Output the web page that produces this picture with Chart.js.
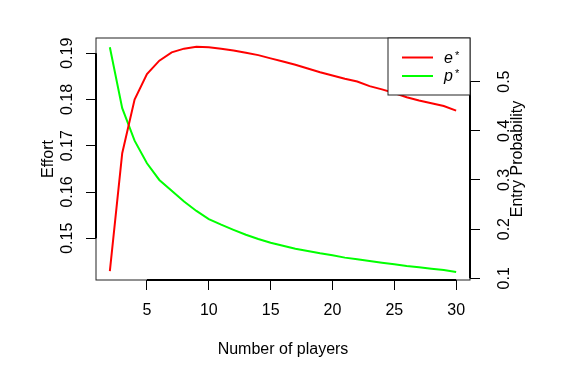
<!DOCTYPE html>
<html>
<head>
<meta charset="utf-8">
<script src="https://cdn.jsdelivr.net/npm/chart.js@4"></script>
<style>
  html, body { margin: 0; padding: 0; background: #fff; }
</style>
</head>
<body>
<canvas id="chartId" width="566" height="377"></canvas>
<script>
// values
const players = [2, 3, 4, 5, 6, 7, 8, 9, 10, 11, 12, 13, 14, 15, 16, 17, 18, 19, 20, 21, 22, 23, 24, 25, 26, 27, 28, 29, 30];
const effort = [0.1429, 0.1684, 0.1800, 0.1855, 0.1884, 0.1902, 0.1910, 0.1914, 0.1913, 0.1910,
                0.1906, 0.1901, 0.1896, 0.1889, 0.1882, 0.1875, 0.1867, 0.1859, 0.1852, 0.1845,
                0.1839, 0.1829, 0.1822, 0.1814, 0.1805, 0.1798, 0.1792, 0.1786, 0.1776];
const entryProb = [0.570, 0.446, 0.380, 0.334, 0.300, 0.278, 0.256, 0.237, 0.2205, 0.209,
                   0.1985, 0.1886, 0.180, 0.1724, 0.1663, 0.160, 0.1555, 0.1508, 0.1467, 0.142,
                   0.1386, 0.1352, 0.1317, 0.1285, 0.125, 0.1224, 0.1195, 0.1169, 0.1128];
const xTicks = [5, 10, 15, 20, 25, 30];
const effortTicks = [0.15, 0.16, 0.17, 0.18, 0.19];
const entryTicks = [0.1, 0.2, 0.3, 0.4, 0.5];
const seriesLabels = ['e*', 'p*'];

const FONT = 'Liberation Sans, Arial, Helvetica, sans-serif';
const tickFont = { family: FONT, size: 16 };

// R style box, short axis lines, legend and right title
const rFrame = {
    id: 'rFrame',
    afterDraw(chart) {
        const ctx = chart.ctx;
        const a = chart.chartArea;
        const sx = chart.scales.x, sy = chart.scales.y, sy2 = chart.scales.y2;
        ctx.save();

        ctx.strokeStyle = '#222';
        ctx.lineWidth = 1;
        ctx.strokeRect(a.left, a.top, a.right - a.left, a.bottom - a.top);

        ctx.strokeStyle = '#000';
        ctx.lineWidth = 2;
        ctx.beginPath();
        ctx.moveTo(sx.getPixelForValue(xTicks[0]), a.bottom);
        ctx.lineTo(sx.getPixelForValue(xTicks[xTicks.length - 1]), a.bottom);
        ctx.moveTo(a.left, sy.getPixelForValue(effortTicks[0]));
        ctx.lineTo(a.left, sy.getPixelForValue(effortTicks[effortTicks.length - 1]));
        ctx.moveTo(a.right, sy2.getPixelForValue(entryTicks[0]));
        ctx.lineTo(a.right, sy2.getPixelForValue(entryTicks[entryTicks.length - 1]));
        ctx.stroke();

        // right axis title, reading bottom to top like R
        ctx.fillStyle = '#000';
        ctx.font = '16px ' + FONT;
        ctx.textAlign = 'center';
        ctx.textBaseline = 'middle';
        ctx.translate(518, (a.top + a.bottom) / 2);
        ctx.rotate(-Math.PI / 2);
        ctx.fillText('Entry Probability', 0, 0);
        ctx.setTransform(1, 0, 0, 1, 0, 0);

        // legend
        const lx = 388, ly = a.top, lw = a.right - 388, lh = 57;
        ctx.fillStyle = '#fff';
        ctx.fillRect(lx, ly, lw, lh);
        ctx.lineWidth = 1;
        ctx.strokeStyle = '#222';
        ctx.strokeRect(lx, ly, lw, lh);
        const rows = [57.5, 76];
        chart.data.datasets.forEach((ds, i) => {
            const y = rows[i];
            ctx.strokeStyle = ds.borderColor;
            ctx.lineWidth = 2;
            ctx.beginPath();
            ctx.moveTo(402, y);
            ctx.lineTo(433, y);
            ctx.stroke();
            const base = ds.label.slice(0, -1);
            ctx.fillStyle = '#000';
            ctx.textAlign = 'left';
            ctx.textBaseline = 'alphabetic';
            ctx.font = 'italic 16px ' + FONT;
            ctx.fillText(base, 444, y + 5);
            const w = ctx.measureText(base).width;
            ctx.font = '11px ' + FONT;
            ctx.fillText('*', 444 + w + 2, y + 1);
        });
        ctx.restore();
    }
};

const chrt = document.getElementById('chartId').getContext('2d');
const chartId = new Chart(chrt, {
    type: 'line',
    data: {
        datasets: [{
            label: seriesLabels[0],
            data: players.map((p, i) => ({ x: p, y: effort[i] })),
            borderColor: '#ff0000',
            borderWidth: 2,
            pointRadius: 0,
            tension: 0,
            yAxisID: 'y'
        }, {
            label: seriesLabels[1],
            data: players.map((p, i) => ({ x: p, y: entryProb[i] })),
            borderColor: '#00ff00',
            borderWidth: 2,
            pointRadius: 0,
            tension: 0,
            yAxisID: 'y2'
        }]
    },
    options: {
        responsive: false,
        animation: false,
        devicePixelRatio: 1,
        layout: { padding: { top: 38, left: 0, right: 0, bottom: 0 } },
        plugins: { legend: { display: false }, tooltip: { enabled: false } },
        scales: {
            x: {
                type: 'linear',
                position: 'bottom',
                min: 0.88,
                max: 31.12,
                afterBuildTicks: s => { s.ticks = xTicks.map(v => ({ value: v })); },
                afterFit: s => { s.height = 97; },
                ticks: { font: tickFont, color: '#000', padding: 11, maxRotation: 0, autoSkip: false },
                grid: { drawOnChartArea: false, drawTicks: true, tickLength: 10, color: '#000', lineWidth: 1 },
                border: { display: false },
                title: { display: true, text: 'Number of players', font: tickFont, color: '#000', padding: { top: 0, bottom: 18 } }
            },
            y: {
                type: 'linear',
                position: 'left',
                min: 0.14098,
                max: 0.1933,
                afterBuildTicks: s => { s.ticks = effortTicks.map(v => ({ value: v })); },
                afterFit: s => { s.width = 96; },
                ticks: { font: tickFont, color: '#000', padding: 3, minRotation: 90, maxRotation: 90, crossAlign: 'center', autoSkip: false },
                grid: { drawOnChartArea: false, drawTicks: true, tickLength: 10, color: '#000', lineWidth: 1 },
                border: { display: false },
                title: { display: true, text: 'Effort', font: tickFont, color: '#000', padding: { top: 39, bottom: 0 } }
            },
            y2: {
                type: 'linear',
                position: 'right',
                min: 0.0965,
                max: 0.5888,
                afterBuildTicks: s => { s.ticks = entryTicks.map(v => ({ value: v })); },
                afterFit: s => { s.width = 96; },
                ticks: { font: tickFont, color: '#000', padding: 13, minRotation: 90, maxRotation: 90, crossAlign: 'center', autoSkip: false },
                grid: { drawOnChartArea: false, drawTicks: true, tickLength: 10, color: '#000', lineWidth: 1 },
                border: { display: false },
                title: { display: false }
            }
        }
    },
    plugins: [rFrame]
});
</script>
</body>
</html>
